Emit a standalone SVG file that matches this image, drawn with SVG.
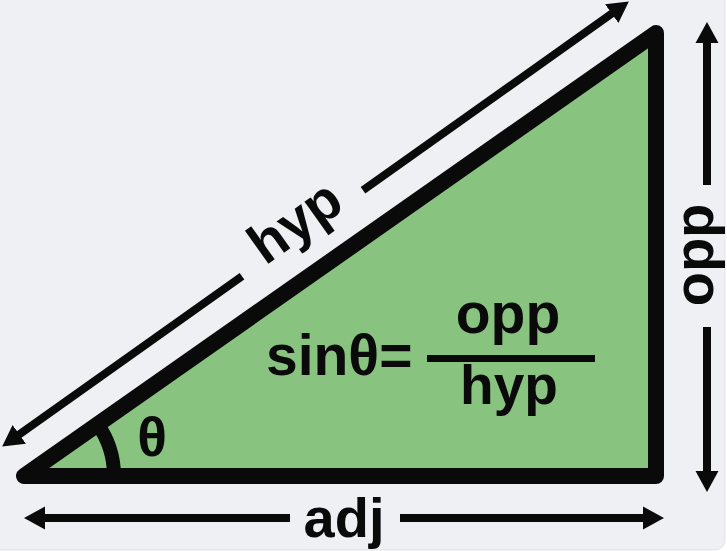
<svg xmlns="http://www.w3.org/2000/svg" width="727" height="551" viewBox="0 0 727 551">
  <defs>
    <marker id="head" markerUnits="userSpaceOnUse" markerWidth="21" markerHeight="24" viewBox="0 0 21 24" refX="4" refY="12" orient="auto">
      <path d="M0,0.5 L21,12 L0,23.5 z" fill="#0a0a0a"/>
    </marker>
  </defs>
  <style>
    .lbl { font-family: "Liberation Sans", Arial, sans-serif; font-weight: bold; fill: #0a0a0a; }
    .arrow { stroke: #0a0a0a; stroke-width: 8; fill: none; marker-end: url(#head); }
  </style>
  <rect x="0" y="0" width="727" height="551" fill="#ffffff"/>
  <rect x="-10" y="-10" width="735" height="560" rx="10" fill="#eff0f4" stroke="#e2e3e8" stroke-width="1"/>

  <g id="triangle">
    <path d="M24,476 L656,476 L656,33 Z" fill="#88c47f" stroke="#0a0a0a" stroke-width="16" stroke-linejoin="round"/>
    <path d="M114,476 A90,90 0 0 0 97.3,423.8" fill="none" stroke="#0a0a0a" stroke-width="14"/>
    <text class="lbl" x="152" y="456" font-size="55" text-anchor="middle">θ</text>
  </g>

  <g id="formula">
    <text class="lbl" x="266" y="375" font-size="57">sinθ=</text>
    <text class="lbl" x="508" y="333" font-size="57" text-anchor="middle">opp</text>
    <rect x="427" y="355" width="168" height="7" fill="#0a0a0a"/>
    <text class="lbl" x="509" y="404" font-size="55" text-anchor="middle">hyp</text>
  </g>

  <g id="connectors">
    <line class="arrow" x1="242" y1="276.2" x2="16" y2="436.7"/>
    <line class="arrow" x1="363" y1="190.3" x2="615" y2="11.3"/>
    <line class="arrow" x1="707" y1="185" x2="707" y2="39"/>
    <line class="arrow" x1="707" y1="327" x2="707" y2="475"/>
    <line class="arrow" x1="290" y1="518" x2="41" y2="518"/>
    <line class="arrow" x1="400" y1="518" x2="647" y2="518"/>
  </g>

  <g id="label-hyp">
    <text class="lbl" font-size="56" text-anchor="middle" transform="translate(303,233) rotate(-35.4)" x="0" y="5">hyp</text>
  </g>
  <g id="label-opp">
    <text class="lbl" font-size="56" text-anchor="middle" transform="translate(713,255) rotate(-90)" x="0" y="0">opp</text>
  </g>
  <g id="label-adj">
    <text class="lbl" font-size="56" text-anchor="middle" x="344" y="537">adj</text>
  </g>
</svg>
